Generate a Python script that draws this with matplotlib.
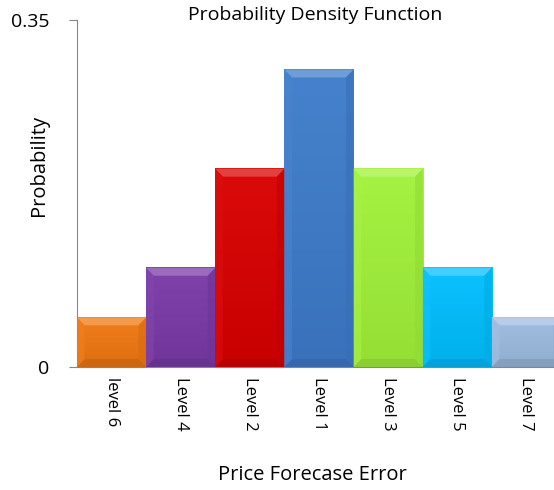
import matplotlib.pyplot as plt
import matplotlib.colors as mcolors
from matplotlib.patches import Polygon
import numpy as np

plt.rcParams['font.family'] = ['Open Sans', 'DejaVu Sans']

# data
levels = ['level 6', 'Level 4', 'Level 2', 'Level 1', 'Level 3', 'Level 5', 'Level 7']
probs = [0.05, 0.10, 0.20, 0.30, 0.20, 0.10, 0.05]
colors = ['#F07812', '#7A3AA8', '#D90000', '#3E7CCB', '#A2F23A', '#00BFFF', '#9DBBE0']


def shade(c, f):
    r, g, b = mcolors.to_rgb(c)
    if f > 0:
        return (r + (1 - r) * f, g + (1 - g) * f, b + (1 - b) * f)
    return (r * (1 + f), g * (1 + f), b * (1 + f))


def bevel_bar(ax, x, h, w, c, bx, by):
    l, r = x - w / 2, x + w / 2
    # body with a soft vertical gradient (lighter top, darker bottom)
    grad = np.linspace(0, 1, 64).reshape(-1, 1)
    top_c = np.array(shade(c, 0.04))
    bot_c = np.array(shade(c, -0.08))
    img = bot_c * (1 - grad[..., None]) + top_c * grad[..., None]
    ax.imshow(img, extent=(l, r, 0, h), origin='lower', aspect='auto',
              interpolation='bilinear', zorder=2)
    # top bevel
    ax.add_patch(Polygon([(l, h), (r, h), (r - bx, h - by), (l + bx, h - by)],
                         closed=True, facecolor=shade(c, 0.25), edgecolor='none', zorder=3))
    # bottom bevel
    ax.add_patch(Polygon([(l, 0), (r, 0), (r - bx, by), (l + bx, by)],
                         closed=True, facecolor=shade(c, -0.15), edgecolor='none', zorder=3))
    # left side
    ax.add_patch(Polygon([(l, 0), (l, h), (l + bx, h - by), (l + bx, by)],
                         closed=True, facecolor=shade(c, 0.06), edgecolor='none', zorder=3, alpha=0.6))
    # right side
    ax.add_patch(Polygon([(r, 0), (r, h), (r - bx, h - by), (r - bx, by)],
                         closed=True, facecolor=shade(c, -0.1), edgecolor='none', zorder=3, alpha=0.6))


fig = plt.figure(figsize=(5.54, 4.9), dpi=100)
ax = fig.add_axes([77 / 554, (490 - 367) / 490, 484 / 554, 347 / 490])

x = np.arange(len(levels))
for xi, p, c in zip(x, probs, colors):
    bevel_bar(ax, xi, p, 1.0, c, 0.11, 0.008)

ax.set_xlim(-0.5, len(levels) - 0.5)
ax.set_ylim(0, 0.35)
ax.set_yticks([0, 0.35])
ax.set_yticklabels(['0', '0.35'], fontsize=14)
ax.set_xticks(x)
ax.set_xticklabels(levels, rotation=-90, fontsize=12)
ax.tick_params(axis='x', length=0, pad=7)
ax.tick_params(axis='y', length=6, color='#868686', pad=14)

for s in ['top', 'right']:
    ax.spines[s].set_visible(False)
for s in ['left', 'bottom']:
    ax.spines[s].set_color('#868686')
ax.spines['bottom'].set_zorder(4)

fig.text(315 / 554, 1 - 15 / 490, 'Probability Density Function', fontsize=14,
         ha='center', va='center')
fig.text(39 / 554, 1 - 165 / 490, 'Probability', fontsize=14.5, rotation=90,
         ha='center', va='center')
fig.text(312 / 554, 1 - 475 / 490, 'Price Forecase Error', fontsize=14.5,
         ha='center', va='center')

fig.savefig('out.png', dpi=100)
